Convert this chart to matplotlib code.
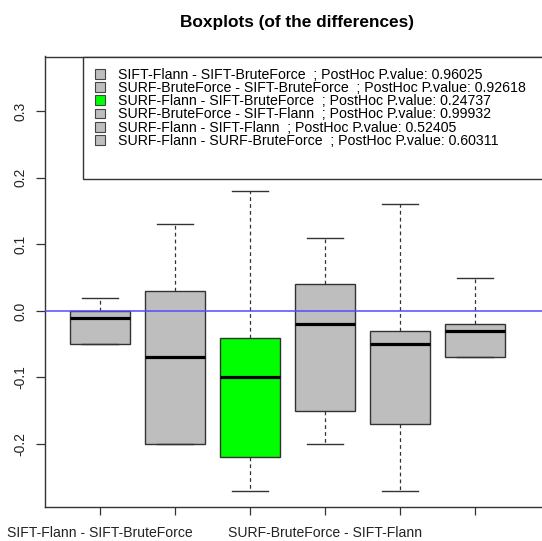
import matplotlib
matplotlib.use("Agg")
from matplotlib import pyplot as plt
from matplotlib.patches import Patch, Rectangle

plt.rcParams['font.family'] = ['Liberation Sans', 'DejaVu Sans']

# comparisons (box order)
labels = ['SIFT-Flann - SIFT-BruteForce',
          'SURF-BruteForce - SIFT-BruteForce',
          'SURF-Flann - SIFT-BruteForce',
          'SURF-BruteForce - SIFT-Flann',
          'SURF-Flann - SIFT-Flann',
          'SURF-Flann - SURF-BruteForce']
p_values = ['0.96025', '0.92618', '0.24737', '0.99932', '0.52405', '0.60311']

# box statistics
whislo = [-0.05, -0.20, -0.27, -0.20, -0.27, -0.07]
q1 = [-0.05, -0.20, -0.22, -0.15, -0.17, -0.07]
med = [-0.01, -0.07, -0.10, -0.02, -0.05, -0.03]
q3 = [0.00, 0.03, -0.04, 0.04, -0.03, -0.02]
whishi = [0.02, 0.13, 0.18, 0.11, 0.16, 0.05]
colors = ['#bebebe', '#bebebe', '#00ff00', '#bebebe', '#bebebe', '#bebebe']
# R drops overlapping axis labels: only these are shown
shown = [True, False, False, True, False, False]

W, H = 542, 541
fig = plt.figure(figsize=(W / 100, H / 100), dpi=100)
ax = fig.add_axes([45 / W, (H - 507) / H, (547 - 45) / W, (507 - 56.5) / H])

stats = []
for i in range(len(labels)):
    stats.append(dict(whislo=whislo[i], q1=q1[i], med=med[i], q3=q3[i],
                      whishi=whishi[i], fliers=[], label=labels[i]))

pos = list(range(1, len(labels) + 1))
bp = ax.bxp(stats, positions=pos, widths=0.8, capwidths=0.49,
            patch_artist=True, showfliers=False,
            boxprops=dict(edgecolor='#333333', linewidth=1.0),
            whiskerprops=dict(color='#333333', linestyle=(0, (3, 2.5)), linewidth=0.9),
            capprops=dict(color='#333333', linewidth=1.0),
            medianprops=dict(color='black', linewidth=2.3, solid_capstyle='butt'))
for patch, c in zip(bp['boxes'], colors):
    patch.set_facecolor(c)

ax.axhline(0, color='#4d4dff', linewidth=1.1, zorder=4)

ax.set_xlim(0.267, 6.96)
ax.set_ylim(-0.2945, 0.382)
ax.set_xticks(pos)
ax.set_xticklabels([l if s else '' for l, s in zip(labels, shown)], fontsize=10.1, color='#222222')
ax.set_yticks([-0.2, -0.1, 0.0, 0.1, 0.2, 0.3])
ax.set_yticklabels(['-0.2', '-0.1', '0.0', '0.1', '0.2', '0.3'], rotation=90,
                   va='center', fontsize=10, color='#222222')
ax.tick_params(axis='x', length=5.8, width=0.9, color='#333333', pad=8)
ax.tick_params(axis='y', length=6.5, width=0.9, color='#333333', pad=6)
for s in ax.spines.values():
    s.set_linewidth(1.0)
    s.set_color('#333333')

# legend frame (R leaves extra room under the entries)
frame = Rectangle((83 / W, 1 - 179 / H), (600 - 83) / W, (179 - 56.5) / H,
                  transform=fig.transFigure, facecolor='white',
                  edgecolor='#333333', linewidth=1.0, zorder=4.5, clip_on=False)
ax.add_artist(frame)

handles = [Patch(facecolor=c, edgecolor='#444444', linewidth=0.8) for c in colors]
leg_labels = [l + '  ; PostHoc P.value: ' + p for l, p in zip(labels, p_values)]
leg = ax.legend(handles, leg_labels, loc='upper left',
                bbox_to_anchor=(95 / W, 1 - 68 / H), bbox_transform=fig.transFigure,
                fontsize=10.2, frameon=False, handlelength=0.7, handleheight=0.7,
                handletextpad=0.95, labelspacing=-0.06, borderpad=0,
                borderaxespad=0)
leg.set_zorder(6)

fig.text(297 / W, 1 - 23 / H, 'Boxplots (of the differences)', ha='center', va='center',
         fontsize=12.4, fontweight='bold')

fig.savefig('out.png', dpi=100)
